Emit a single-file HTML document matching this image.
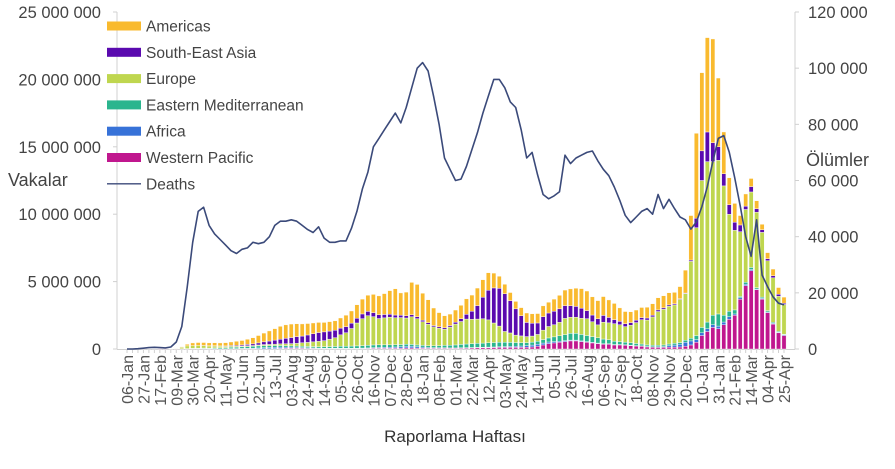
<!DOCTYPE html>
<html><head><meta charset="utf-8">
<style>
html,body{margin:0;padding:0;background:#fff;}
svg{display:block;font-family:"Liberation Sans",Arial,sans-serif;}
</style></head>
<body>
<svg id="chart" width="895" height="469" viewBox="0 0 895 469" xmlns="http://www.w3.org/2000/svg">
<g id="axes"></g>
<g id="bars"></g>
<g id="line"></g>
<g id="legend"></g>
</svg>
<script>
const weekLabels = ["06-Jan","27-Jan","17-Feb","09-Mar","30-Mar","20-Apr","11-May","01-Jun","22-Jun","13-Jul","03-Aug","24-Aug","14-Sep","05-Oct","26-Oct","16-Nov","07-Dec","28-Dec","18-Jan","08-Feb","01-Mar","22-Mar","12-Apr","03-May","24-May","14-Jun","05-Jul","26-Jul","16-Aug","06-Sep","27-Sep","18-Oct","08-Nov","29-Nov","20-Dec","10-Jan","31-Jan","21-Feb","14-Mar","04-Apr","25-Apr"];
const leftTicks = ["0","5 000 000","10 000 000","15 000 000","20 000 000","25 000 000"];
const rightTicks = ["0","20 000","40 000","60 000","80 000","100 000","120 000"];
// weekly cases in millions, 121 weeks (06-Jan-2020 .. 25-Apr-2022)
const americas = [0,0,0,0,0,0,0,0,0,0.01,
0.05,0.12,0.2,0.22,0.22,0.21,0.22,0.22,0.24,0.26,
0.3,0.33,0.38,0.45,0.55,0.65,0.75,0.85,0.95,1.0,
1.0,0.95,0.9,0.85,0.8,0.75,0.7,0.7,0.7,0.75,
0.85,0.9,1.0,1.1,1.2,1.35,1.4,1.55,1.75,1.95,
1.65,1.75,2.4,2.4,2.0,1.7,1.3,1.05,0.9,0.85,
0.9,1.0,1.15,1.2,1.3,1.3,1.3,1.1,0.9,0.7,
0.6,0.55,0.6,0.7,0.7,0.7,0.8,0.8,0.9,1.0,
1.15,1.25,1.35,1.45,1.45,1.35,1.35,1.4,1.3,1.2,
1.0,0.9,0.8,0.75,0.75,0.8,0.85,0.9,0.9,0.9,
0.85,0.9,1.7,3.3,6.3,5.8,7.0,7.7,5.1,3.1,
2.0,1.4,0.7,0.9,0.6,0.6,0.4,0.45,0.5,0.5,0.45];
const seAsia = [0,0,0,0,0,0,0,0,0,0,
0,0,0,0,0.01,0.02,0.02,0.03,0.04,0.05,
0.06,0.08,0.1,0.12,0.15,0.2,0.25,0.3,0.35,0.4,
0.45,0.5,0.5,0.55,0.6,0.65,0.65,0.6,0.55,0.5,
0.45,0.4,0.35,0.35,0.32,0.3,0.28,0.25,0.22,0.2,
0.18,0.17,0.15,0.14,0.12,0.11,0.1,0.1,0.1,0.11,
0.14,0.2,0.35,0.6,1.0,1.6,2.2,2.6,2.8,2.8,
2.4,1.95,1.5,1.05,0.95,0.85,1.0,1.0,1.0,1.0,
0.95,0.85,0.8,0.75,0.6,0.5,0.45,0.5,0.4,0.3,
0.25,0.22,0.2,0.18,0.16,0.15,0.13,0.12,0.1,0.1,
0.08,0.05,0.05,0.1,0.7,2.2,2.2,1.4,1.0,0.9,
0.7,0.6,0.5,0.25,0.4,0.25,0.2,0.15,0.15,0.15,0.1];
const europe = [0,0,0,0,0,0,0,0,0.01,0.04,
0.1,0.2,0.2,0.2,0.18,0.16,0.14,0.11,0.09,0.08,
0.07,0.06,0.06,0.06,0.07,0.08,0.09,0.1,0.12,0.14,
0.17,0.2,0.25,0.3,0.35,0.4,0.45,0.55,0.65,0.85,
1.0,1.3,1.7,2.0,2.2,2.1,1.95,2.0,2.05,2.0,
2.0,1.95,2.05,1.95,1.75,1.6,1.4,1.3,1.2,1.35,
1.55,1.7,1.85,1.8,1.8,1.8,1.7,1.45,1.2,0.8,
0.7,0.55,0.5,0.45,0.45,0.5,0.7,0.85,0.9,1.0,
1.2,1.2,1.2,1.2,1.25,1.1,0.95,1.25,1.25,1.3,
1.25,1.15,1.3,1.55,1.8,1.85,2.1,2.5,2.65,2.8,
2.85,3.2,3.45,5.7,8.0,10.9,11.9,11.4,11.4,9.6,
7.2,5.9,4.8,5.4,5.6,5.6,4.8,3.7,3.3,2.6,2.2];
const eastMed = [0,0,0,0,0,0,0,0,0,0,
0.01,0.02,0.03,0.04,0.05,0.05,0.06,0.07,0.08,0.1,
0.11,0.12,0.13,0.14,0.15,0.15,0.14,0.13,0.12,0.11,
0.1,0.1,0.1,0.1,0.1,0.1,0.11,0.12,0.13,0.14,
0.15,0.16,0.17,0.18,0.19,0.2,0.2,0.19,0.18,0.17,
0.16,0.15,0.14,0.13,0.13,0.13,0.14,0.16,0.18,0.2,
0.22,0.25,0.27,0.29,0.3,0.31,0.32,0.33,0.33,0.32,
0.3,0.28,0.25,0.22,0.22,0.23,0.26,0.3,0.35,0.4,
0.45,0.5,0.5,0.48,0.45,0.42,0.4,0.35,0.3,0.25,
0.22,0.2,0.18,0.16,0.14,0.12,0.12,0.12,0.12,0.13,
0.13,0.13,0.15,0.2,0.3,0.4,0.5,0.7,0.9,0.5,
0.4,0.3,0.1,0.15,0.15,0.1,0.1,0.1,0.08,0.06,0.05];
const africa = [0,0,0,0,0,0,0,0,0,0,
0,0,0,0,0,0.005,0.01,0.01,0.01,0.02,
0.02,0.03,0.04,0.05,0.06,0.08,0.09,0.1,0.1,0.09,
0.08,0.07,0.06,0.05,0.04,0.04,0.03,0.03,0.03,0.03,
0.03,0.03,0.03,0.04,0.04,0.05,0.05,0.06,0.07,0.08,
0.1,0.12,0.12,0.1,0.08,0.06,0.05,0.04,0.04,0.03,
0.03,0.03,0.03,0.03,0.03,0.03,0.04,0.04,0.05,0.06,
0.07,0.08,0.1,0.12,0.14,0.15,0.14,0.12,0.1,0.08,
0.07,0.06,0.06,0.05,0.05,0.05,0.04,0.04,0.04,0.03,
0.03,0.03,0.03,0.03,0.03,0.03,0.03,0.04,0.06,0.1,
0.15,0.2,0.3,0.3,0.2,0.2,0.2,0.2,0.2,0.2,
0.2,0.1,0.1,0.1,0.1,0.05,0.05,0.05,0.05,0.05,0.05];
const westPac = [0,0,0.005,0.02,0.03,0.02,0.01,0.01,0.01,0.01,
0.01,0.01,0.02,0.02,0.02,0.01,0.01,0.01,0.01,0.01,
0.01,0.01,0.01,0.01,0.02,0.02,0.02,0.03,0.04,0.05,
0.05,0.05,0.05,0.04,0.04,0.03,0.03,0.03,0.03,0.03,
0.03,0.03,0.03,0.03,0.04,0.05,0.06,0.06,0.06,0.07,
0.07,0.08,0.08,0.07,0.06,0.05,0.05,0.05,0.05,0.05,
0.05,0.06,0.07,0.08,0.09,0.1,0.1,0.11,0.12,0.12,
0.12,0.12,0.12,0.13,0.15,0.2,0.3,0.4,0.45,0.5,
0.55,0.6,0.6,0.55,0.5,0.45,0.4,0.35,0.35,0.3,
0.3,0.28,0.25,0.22,0.2,0.15,0.13,0.12,0.12,0.14,
0.14,0.15,0.2,0.3,0.5,1.0,1.3,1.6,1.5,1.8,
2.2,2.5,3.7,4.7,5.8,4.4,3.7,2.7,1.85,1.2,1.0];
const deaths = [0,0,100,300,500,600,500,400,700,2500,
8000,22000,38000,49000,50500,44000,41000,39000,37000,35000,
34000,35500,36000,38000,37500,38000,40000,44000,45500,45500,
46000,45500,44000,42500,41500,43500,39500,38000,38000,38500,
38500,43000,49000,57000,63000,72000,75000,78000,81000,84000,
80500,86000,93000,100000,102000,99000,90000,80000,68000,64000,
60000,60500,65000,71000,77000,84000,90000,96000,96000,93000,
88000,86000,78000,68000,70000,62000,55000,53500,54500,56000,
69000,66000,68000,69000,70000,70500,67000,64000,61700,57700,
52900,47600,45000,47000,49000,50000,48000,55000,50000,53300,
50000,47000,46000,42700,45300,50700,57800,66700,75000,76000,
70000,61000,51000,40000,33000,46000,26300,22200,18600,16300,15700];

const NS="http://www.w3.org/2000/svg";
const X0=127, DX=5.475, YB=349, YT=12;
const xPos = i => X0 + DX*i;
const yCases = v => YB - (v/25)*(YB-YT);
const yDeaths = v => YB - (v/120000)*(YB-YT);
function mk(tag, attrs, parent){const e=document.createElementNS(NS,tag);for(const k in attrs)e.setAttribute(k,attrs[k]);parent.appendChild(e);return e;}
const axes=document.getElementById('axes'), bars=document.getElementById('bars'), lineG=document.getElementById('line'), legend=document.getElementById('legend');

let a=mk('line',{x1:117,y1:YT,x2:117,y2:YB,stroke:'#d0d0d0','stroke-width':1},axes);


a=mk('line',{x1:795,y1:YT,x2:795,y2:YB,stroke:'#d0d0d0','stroke-width':1},axes);


a=mk('line',{x1:117,y1:YB+0.5,x2:795,y2:YB+0.5,stroke:'#d0d0d0','stroke-width':1},axes);


for(let i=0;i<americas.length;i++){
  const t=mk('line',{x1:xPos(i),y1:YB,x2:xPos(i),y2:YB+4,stroke:'#d0d0d0','stroke-width':1},axes);
  
  
}
leftTicks.forEach((s,k)=>{
  const y=yCases(k*5);
  const t=mk('text',{x:101,y:y+6,'text-anchor':'end','font-size':16.5,fill:'#444'},axes);t.textContent=s;
  
  
  const tk=mk('line',{x1:113,y1:y,x2:117,y2:y,stroke:'#d0d0d0'},axes);
  
  
});
rightTicks.forEach((s,k)=>{
  const y=yDeaths(k*20000);
  const t=mk('text',{x:808,y:y+6,'text-anchor':'start','font-size':16.5,fill:'#444'},axes);t.textContent=s;
  
  
  const tk=mk('line',{x1:795,y1:y,x2:799,y2:y,stroke:'#d0d0d0'},axes);
  
  
});
weekLabels.forEach((s,k)=>{
  const x=xPos(k*3);
  const t=mk('text',{x:0,y:0,'text-anchor':'end','font-size':16,fill:'#555',transform:`translate(${x+6},355) rotate(-90)`},axes);t.textContent=s;
  
  
});
let tt=mk('text',{x:8,y:186,'font-size':18,fill:'#444'},axes);tt.textContent='Vakalar';


tt=mk('text',{x:806,y:166,'font-size':18,fill:'#444'},axes);tt.textContent='Ölümler';


tt=mk('text',{x:455,y:442,'text-anchor':'middle','font-size':17,fill:'#333'},axes);tt.textContent='Raporlama Haftası';



const series=[
 {name:'Western Pacific',vals:westPac,color:'#C0178E'},
 {name:'Africa',vals:africa,color:'#3772D8'},
 {name:'Eastern Mediterranean',vals:eastMed,color:'#2BB58E'},
 {name:'Europe',vals:europe,color:'#BFD64F'},
 {name:'South-East Asia',vals:seAsia,color:'#5A0AAF'},
 {name:'Americas',vals:americas,color:'#F9BA2E'}
];
for(let i=0;i<americas.length;i++){
  let cum=0;
  series.forEach(s=>{
    const v=s.vals[i]; if(v<=0)return;
    const y1=yCases(cum), y2=yCases(cum+v);
    const r=mk('rect',{x:xPos(i)-2.1,y:y2,width:4.2,height:Math.max(y1-y2,0.3),fill:s.color,stroke:'#fff','stroke-width':0.4},bars);
    
    
    cum+=v;
  });
}
const pts=deaths.map((d,i)=>xPos(i).toFixed(1)+','+yDeaths(d).toFixed(1)).join(' ');
const pl=mk('polyline',{points:pts,fill:'none',stroke:'#3B4A7A','stroke-width':1.6,'stroke-linejoin':'round'},lineG);



const legItems=[['Americas','#F9BA2E'],['South-East Asia','#5A0AAF'],['Europe','#BFD64F'],['Eastern Mediterranean','#2BB58E'],['Africa','#3772D8'],['Western Pacific','#C0178E'],['Deaths','#3B4A7A']];
legItems.forEach((it,k)=>{
  const y=26+k*26.3;
  const g=mk('g',{},legend);
  
  
  if(it[0]==='Deaths'){mk('line',{x1:107,y1:y,x2:141,y2:y,stroke:it[1],'stroke-width':1.3},g);}
  else{mk('rect',{x:107,y:y-4.5,width:34,height:9,fill:it[1]},g);}
  const t=mk('text',{x:146,y:y+5.5,'font-size':15.5,fill:'#444'},g);t.textContent=it[0];
});
</script>
</body></html>
